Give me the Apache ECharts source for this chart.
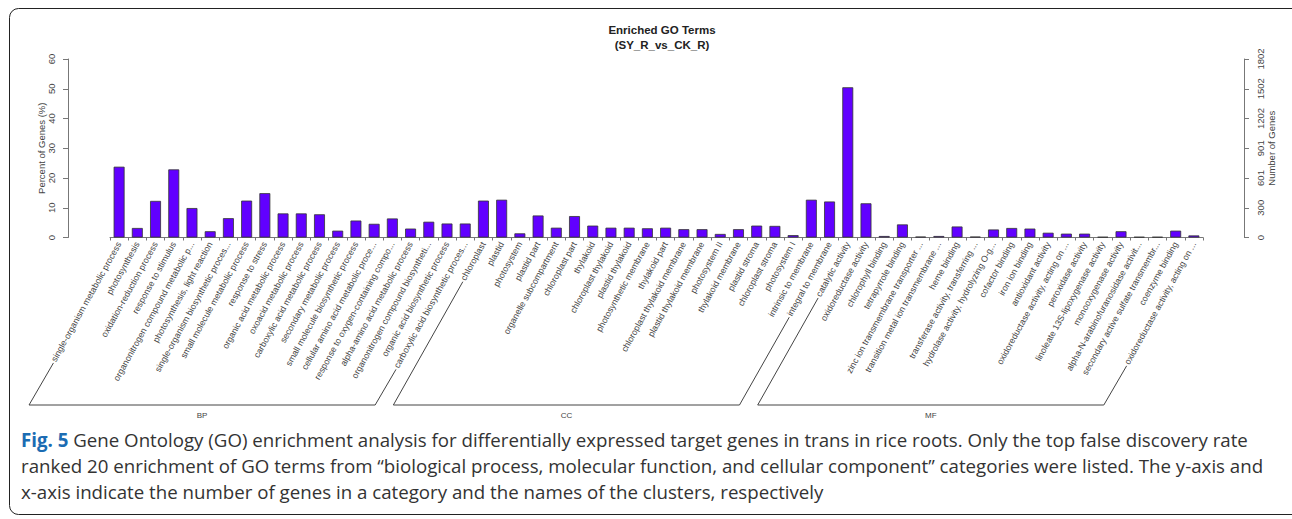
<!DOCTYPE html>
<html>
<head>
<meta charset="utf-8">
<script src="https://cdn.jsdelivr.net/npm/echarts@6/dist/echarts.min.js"></script>
<style>
html,body{margin:0;padding:0;background:#fff;}
#main{width:1292px;height:519px;}
</style>
</head>
<body>
<div id="main"></div>
<script>
// ---- data ----
const bpTerms = [
  "single-organism metabolic process","photosynthesis","oxidation-reduction process","response to stimulus",
  "organonitrogen compound metabolic p...","photosynthesis, light reaction","single-organism biosynthetic proces...",
  "small molecule metabolic process","response to stress","organic acid metabolic process","oxoacid metabolic process",
  "carboxylic acid metabolic process","secondary metabolic process","small molecule biosynthetic process",
  "cellular amino acid metabolic proce...","response to oxygen-containing compo...","alpha-amino acid metabolic process",
  "organonitrogen compound biosyntheti...","organic acid biosynthetic process","carboxylic acid biosynthetic proces..."
];
const ccTerms = [
  "chloroplast","plastid","photosystem","plastid part","organelle subcompartment","chloroplast part","thylakoid",
  "chloroplast thylakoid","plastid thylakoid","photosynthetic membrane","thylakoid part","chloroplast thylakoid membrane",
  "plastid thylakoid membrane","photosystem II","thylakoid membrane","plastid stroma","chloroplast stroma","photosystem I",
  "intrinsic to membrane","integral to membrane"
];
const mfTerms = [
  "catalytic activity","oxidoreductase activity","chlorophyll binding","tetrapyrrole binding",
  "zinc ion transmembrane transporter ...","transition metal ion transmembrane ...","heme binding",
  "transferase activity, transferring ...","hydrolase activity, hydrolyzing O-g...","cofactor binding","iron ion binding",
  "antioxidant activity","oxidoreductase activity, acting on ...","peroxidase activity","linoleate 13S-lipoxygenase activity",
  "monooxygenase activity","alpha-N-arabinofuranosidase activit...","secondary active sulfate transmembr...","coenzyme binding",
  "oxidoreductase activity, acting on ..."
];
const bpPercent = [23.8,3.2,12.3,22.9,9.9,2.1,6.5,12.4,14.9,8.1,8.1,7.8,2.3,5.7,4.6,6.4,3.0,5.3,4.7,4.7];
const ccPercent = [12.4,12.7,1.4,7.4,3.3,7.2,4.0,3.3,3.3,3.1,3.3,2.8,2.8,1.2,2.8,4.0,3.9,0.8,12.7,12.1];
const mfPercent = [50.5,11.5,0.5,4.4,0.3,0.5,3.7,0.3,2.7,3.2,3.0,1.6,1.3,1.3,0.2,2.1,0.2,0.2,2.3,0.7];
const groupNames = ["BP","CC","MF"];
const leftTickLabels = ["0","10","20","30","40","50","60"];
const rightTickLabels = ["0","300","601","901","1202","1502","1802"];
const titleLines = ["Enriched GO Terms","(SY_R_vs_CK_R)"];
const captionLines = [
  "{fig|Fig. 5} Gene Ontology (GO) enrichment analysis for differentially expressed target genes in trans in rice roots. Only the top false discovery rate",
  "ranked 20 enrichment of GO terms from \u201cbiological process, molecular function, and cellular component\u201d categories were listed. The y-axis and",
  "x-axis indicate the number of genes in a category and the names of the clusters, respectively"
];

// ---- build ----
const groups = [bpTerms, ccTerms, mfTerms];
const categories = [].concat(bpTerms, ccTerms, mfTerms);
const values = [].concat(bpPercent, ccPercent, mfPercent);

const LABEL_FONT = 8.8;
const LABEL_ROT = 61;
const LABEL_MARGIN = 5;
const AXIS_FONT = 'Liberation Sans, Arial, sans-serif';
const CAP_FONT = 18.7;

const chart = echarts.init(document.getElementById('main'), null, {renderer: 'svg'});

const option = {
  animation: false,
  backgroundColor: '#fff',
  title: [
    {
      text: titleLines.join('\n'),
      left: 657, top: 17, textAlign: 'center',
      textStyle: {fontFamily: AXIS_FONT, fontSize: 11.5, fontWeight: 'bold', color: '#222', lineHeight: 15}
    },
    {
      text: captionLines.join('\n'),
      left: 16, top: 421,
      textStyle: {
        fontFamily: 'Open Sans, sans-serif', fontSize: CAP_FONT, color: '#333', lineHeight: 26, fontWeight: 'normal',
        rich: {fig: {fontFamily: 'Open Sans, sans-serif', fontSize: CAP_FONT, fontWeight: 'bold', color: '#1b6cb3', lineHeight: 26}}
      }
    }
  ],
  grid: {left: 110, right: 89, top: 59, bottom: 281.5, containLabel: false},
  xAxis: {
    type: 'category',
    data: categories,
    axisLine: {show: true, lineStyle: {color: '#777', width: 1}},
    axisTick: {show: true, interval: 0, length: 3, lineStyle: {color: '#777'}},
    axisLabel: {interval: 0, rotate: LABEL_ROT, margin: LABEL_MARGIN, fontSize: LABEL_FONT, color: '#444', fontFamily: AXIS_FONT}
  },
  yAxis: [
    {
      type: 'value', min: 0, max: 60, interval: 10, position: 'left', offset: 42,
      name: 'Percent of Genes (%)', nameLocation: 'middle', nameRotate: 90, nameGap: 22, nameMoveOverlap: false,
      nameTextStyle: {fontSize: 9.5, color: '#444', fontFamily: AXIS_FONT},
      axisLine: {show: true, lineStyle: {color: '#777'}},
      axisTick: {show: true, length: 5, lineStyle: {color: '#777'}},
      axisLabel: {rotate: 90, fontSize: 9.5, color: '#444', margin: 12, fontFamily: AXIS_FONT,
        formatter: (v) => leftTickLabels[Math.round(v / 10)]},
      splitLine: {show: false}
    },
    {
      type: 'value', min: 0, max: 60, interval: 10, position: 'right', offset: 41,
      name: 'Number of Genes', nameLocation: 'middle', nameRotate: 90, nameGap: 22, nameMoveOverlap: false,
      nameTextStyle: {fontSize: 9.5, color: '#444', fontFamily: AXIS_FONT},
      axisLine: {show: true, lineStyle: {color: '#777'}},
      axisTick: {show: true, length: 5, lineStyle: {color: '#777'}},
      axisLabel: {rotate: 90, fontSize: 9.5, color: '#444', margin: 11, fontFamily: AXIS_FONT,
        formatter: (v) => rightTickLabels[Math.round(v / 10)]},
      splitLine: {show: false}
    }
  ],
  series: [{
    type: 'bar',
    data: values,
    barWidth: '60%',
    itemStyle: {color: '#6100ff', borderColor: '#333', borderWidth: 0.8}
  }]
};
chart.setOption(option);

// ---- group brackets, derived from axis positions ----
const ctx = document.createElement('canvas').getContext('2d');
ctx.font = LABEL_FONT + 'px "Liberation Sans"';
const theta = LABEL_ROT * Math.PI / 180;
const axisY = chart.convertToPixel({yAxisIndex: 0}, 0);
const baseY = 405;
function labelEnd(idx) {
  const x = chart.convertToPixel({xAxisIndex: 0}, idx);
  const L = ctx.measureText(categories[idx]).width;
  const y0 = axisY + LABEL_MARGIN;
  return [x - L * Math.cos(theta), y0 + L * Math.sin(theta)];
}
const graphics = [];
let start = 0;
groups.forEach((g, gi) => {
  const first = start, last = start + g.length - 1;
  start += g.length;
  const a = labelEnd(first), b = labelEnd(last);
  const ax = a[0] - (baseY - a[1]) / Math.tan(theta);
  const bx = b[0] - (baseY - b[1]) / Math.tan(theta);
  graphics.push({type: 'polyline', silent: true,
    shape: {points: [[a[0], a[1] + 2], [ax, baseY], [bx, baseY], [b[0], b[1] + 2]]},
    style: {stroke: '#444', lineWidth: 1, fill: null}});
  graphics.push({type: 'text', silent: true, x: (ax + bx) / 2, y: baseY + 10,
    style: {text: groupNames[gi], fontSize: 8, fill: '#444', fontFamily: AXIS_FONT, align: 'center', verticalAlign: 'middle'}});
});
graphics.push({type: 'rect', silent: true, shape: {x: 9.5, y: 8.5, width: 1300, height: 506, r: 9},
  style: {stroke: '#222', lineWidth: 1, fill: null}});
chart.setOption({graphic: graphics});
</script>
</body>
</html>
